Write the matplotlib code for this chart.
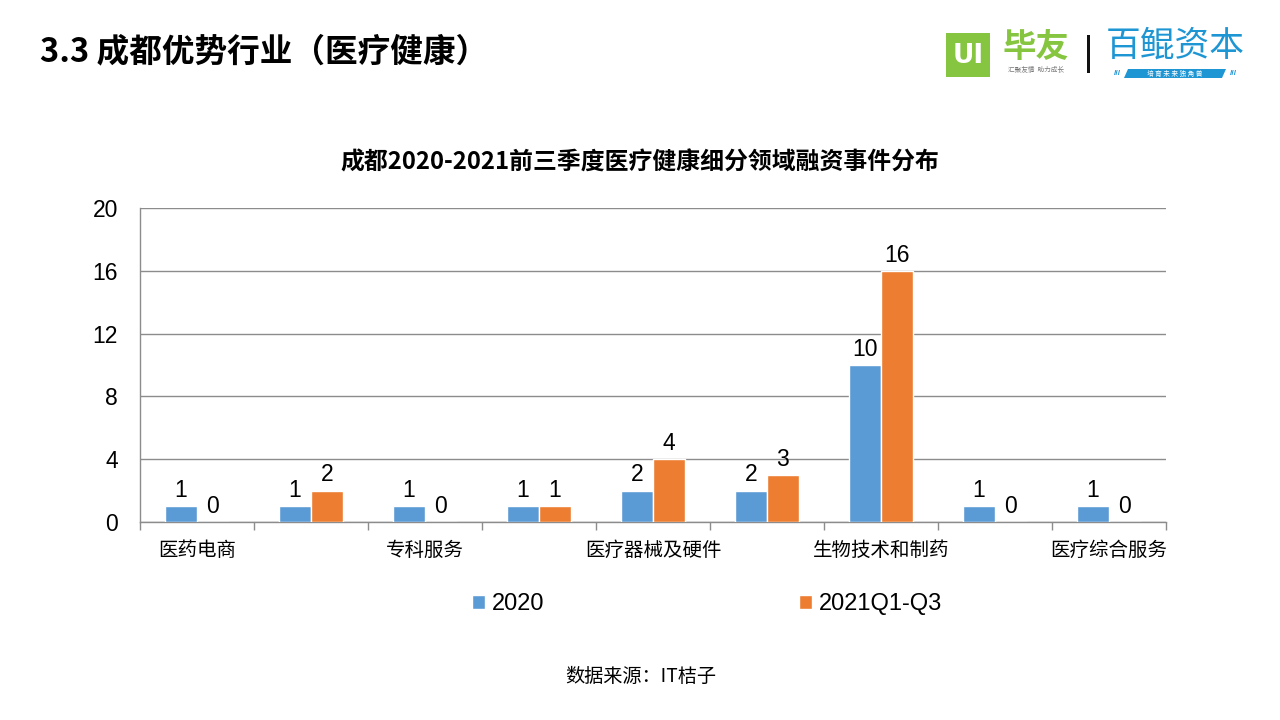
import matplotlib
matplotlib.use("Agg")
import matplotlib.pyplot as plt
from matplotlib.patches import Rectangle, Polygon

plt.rcParams['font.family'] = ['Liberation Sans', 'Noto Sans CJK SC', 'DejaVu Sans']

# ---- data ----
categories = ['医药电商', '', '专科服务', '', '医疗器械及硬件', '', '生物技术和制药', '', '医疗综合服务']
series_names = ['2020', '2021Q1-Q3']
values_2020 = [1, 1, 1, 1, 2, 2, 10, 1, 1]
values_2021 = [0, 2, 0, 1, 4, 3, 16, 0, 0]
y_ticks = [0, 4, 8, 12, 16, 20]

blue = '#5B9BD5'
orange = '#ED7D31'
grid_c = '#8C8C8C'
CJK = ['Noto Sans CJK SC', 'DejaVu Sans']

fig = plt.figure(figsize=(12.8, 7.2), dpi=100)
W, H = 1280, 720

def fx(px):
    return px / W

def fy(py):
    return 1 - py / H

ax = fig.add_axes([fx(140), fy(522), (1166 - 140) / W, (522 - 208) / H])

n = len(categories)
xs = list(range(n))
bw = 0.28
b1 = ax.bar([x - bw / 2 for x in xs], values_2020, width=bw, color=blue,
            edgecolor='white', linewidth=1, label=series_names[0], zorder=3)
b2 = ax.bar([x + bw / 2 for x in xs], values_2021, width=bw, color=orange,
            edgecolor='white', linewidth=1, label=series_names[1], zorder=3)

for bars, vals in ((b1, values_2020), (b2, values_2021)):
    for rect, v in zip(bars, vals):
        ax.annotate(str(v), (rect.get_x() + rect.get_width() / 2, v),
                    xytext=(0, 3), textcoords='offset points',
                    ha='center', va='bottom', fontsize=16.5, color='#000000')

ax.set_xlim(-0.5, n - 0.5)
ax.set_ylim(0, 20)
ax.set_yticks(y_ticks)
ax.set_yticklabels([str(t) for t in y_ticks], fontsize=16.5)
ax.tick_params(axis='y', length=0, pad=16)

ax.set_xticks(xs)
ax.set_xticklabels(categories, fontsize=14, family=CJK)
ax.tick_params(axis='x', which='major', length=0, pad=13)
ax.set_xticks([x - 0.5 for x in range(n + 1)], minor=True)
ax.tick_params(axis='x', which='minor', length=6, color=grid_c, width=1)

ax.grid(axis='y', color=grid_c, linewidth=1, zorder=0)
ax.set_axisbelow(True)
for s in ('top', 'right'):
    ax.spines[s].set_visible(False)
for s in ('left', 'bottom'):
    ax.spines[s].set_color(grid_c)
    ax.spines[s].set_linewidth(1)

leg = fig.legend(handles=[b1, b2], labels=series_names, loc='center',
                 bbox_to_anchor=(fx(707), fy(604)), ncol=2, frameon=False,
                 fontsize=17, handlelength=0.55, handleheight=0.55,
                 handletextpad=0.3, columnspacing=10.8)

# chart title
fig.text(fx(640), fy(163), '成都2020-2021前三季度医疗健康细分领域融资事件分布',
         ha='center', va='center', fontsize=17.2, fontweight='bold', family=CJK)

# page title
fig.text(fx(40), fy(52), '3.3 成都优势行业（医疗健康）', ha='left', va='center',
         fontsize=23.5, fontweight='bold', family=CJK)

# source
fig.text(fx(641), fy(676), '数据来源：IT桔子', ha='center', va='center',
         fontsize=13.8, family=CJK)

# ---- logos ----
green = '#86C540'
fig.patches.append(Rectangle((fx(946), fy(77)), 44 / W, 44 / H, transform=fig.transFigure,
                             facecolor=green, edgecolor='none'))
fig.text(fx(968), fy(56), 'UI', ha='center', va='center', fontsize=19,
         fontweight='bold', color='white', family=['DejaVu Sans'])
fig.text(fx(1036), fy(47), '毕友', ha='center', va='center', fontsize=24,
         fontweight='bold', color=green, family=CJK)
fig.text(fx(1036), fy(70), '汇聚友情  助力成长', ha='center', va='center', fontsize=4.8,
         color='#777777', family=CJK)
fig.patches.append(Rectangle((fx(1087), fy(73)), 3 / W, 38 / H, transform=fig.transFigure,
                             facecolor='#111111', edgecolor='none'))
bl = '#1E96D4'
fig.text(fx(1175), fy(46), '百鲲资本', ha='center', va='center', fontsize=25,
         color=bl, family=CJK, style='italic')
fig.patches.append(Polygon([(fx(1124), fy(78)), (fx(1222), fy(78)), (fx(1226), fy(69)),
                            (fx(1128), fy(69))], closed=True, transform=fig.transFigure,
                           facecolor=bl, edgecolor='none'))
fig.text(fx(1175), fy(73.5), '培 育 未 来 独 角 兽', ha='center', va='center',
         fontsize=4.8, color='white', family=CJK)
fig.text(fx(1117), fy(73.5), '///', ha='center', va='center', fontsize=6,
         color=bl, fontweight='bold')
fig.text(fx(1233), fy(73.5), '///', ha='center', va='center', fontsize=6,
         color=bl, fontweight='bold')

fig.savefig('out.png', dpi=100)
